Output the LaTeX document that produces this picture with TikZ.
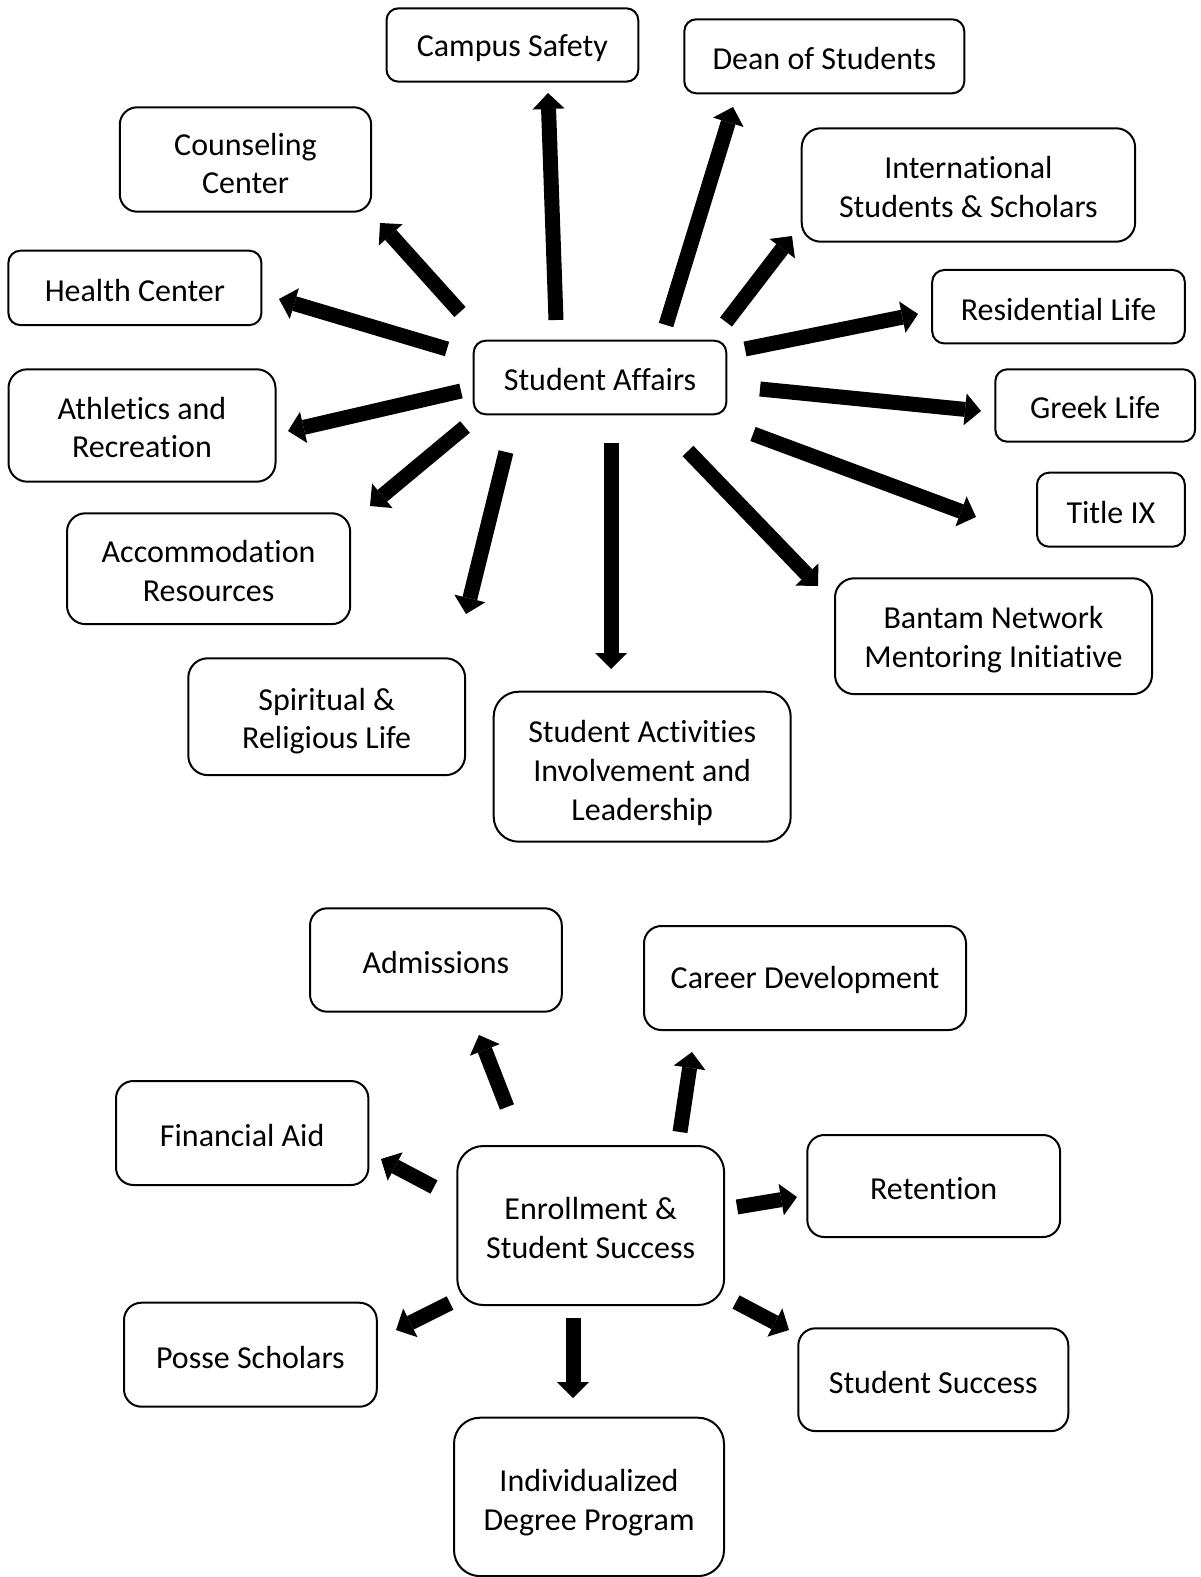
\documentclass[tikz,border=0pt]{standalone}
\usepackage{fontspec}
\setmainfont{Carlito}[Ligatures=NoCommon]
\usetikzlibrary{arrows.meta}
\begin{document}
\begin{tikzpicture}[x=0.5pt,y=-0.5pt,
  % a zero-width strut that sets how far the text sits from the top edge
  lift/.style={execute at begin node={\rule{0pt}{#1}}},
  panel/.style n args={3}{draw, line width=1pt, rounded corners=#3,
    minimum width=#1, minimum height=#2, align=center, inner sep=0pt,
    font=\fontsize{16}{19.35}\selectfont, lift=13.5pt},
  flow/.style={line width=7.5pt,
    -{Triangle[length=8pt,width=16pt,line width=0pt]}}]
\useasboundingbox (0,0) rectangle (1200,1577);

% ---------- Student Affairs ----------
\node[panel={126.3pt}{36.8pt}{6pt}]  (sa)     at (600,377.5)   {Student Affairs};
\node[panel={125.9pt}{36.7pt}{6pt}, lift=14.5pt] (campus) at (512.4,45) {Campus Safety};
\node[panel={140pt}{37pt}{6pt}]      (dean)   at (824.3,56.3)  {Dean of Students};
\node[panel={125.7pt}{52.2pt}{8.7pt}, lift=34.5pt] (couns) at (245.5,159.5) {Counseling\\Center};
\node[panel={166.7pt}{56.7pt}{9.5pt}, lift=32.5pt] (intl)  at (968.4,185) {International\\Students \& Scholars};
\node[panel={126.5pt}{37.2pt}{6pt}]  (health) at (134.9,287.9) {Health Center};
\node[panel={126.3pt}{36.7pt}{6pt}]  (resid)  at (1058.5,306.7) {Residential Life};
\node[panel={133.5pt}{56.2pt}{9.4pt}, lift=32.5pt] (athl)  at (142,425.5) {Athletics and\\Recreation};
\node[panel={99.9pt}{36.2pt}{6pt}]   (greek)  at (1095.2,405.5) {Greek Life};
\node[panel={73.9pt}{37pt}{6pt}]     (title)  at (1110.9,509.7) {Title IX};
\node[panel={141.6pt}{55.4pt}{9.2pt}, lift=32.5pt] (accom) at (208.6,568.7) {Accommodation\\Resources};
\node[panel={158.5pt}{57.9pt}{9.6pt}, lift=34pt] (bantam) at (993.5,636.2) {Bantam Network\\Mentoring Initiative};
\node[panel={138.4pt}{58.4pt}{9.7pt}, lift=35pt] (spirit) at (326.7,716.7) {Spiritual \&\\Religious Life};
\node[panel={148.5pt}{75pt}{12.5pt}, lift=55.9pt] (activ) at (642.2,766.7) {Student Activities\\Involvement and\\Leadership};

% arrow ends around Student Affairs
\coordinate (sa-campus) at (556,320);  \coordinate (campus-in) at (548,93);
\coordinate (sa-dean)   at (666,325);  \coordinate (dean-in)   at (733,107);
\coordinate (sa-couns)  at (460,312);  \coordinate (couns-in)  at (380,223);
\coordinate (sa-intl)   at (726,322);  \coordinate (intl-in)   at (792,236);
\coordinate (sa-health) at (447,349);  \coordinate (health-in) at (279,299);
\coordinate (sa-resid)  at (745,349);  \coordinate (resid-in)  at (918,314);
\coordinate (sa-athl)   at (461,391);  \coordinate (athl-in)   at (288,431);
\coordinate (sa-greek)  at (760,389);  \coordinate (greek-in)  at (981,411);
\coordinate (sa-title)  at (753,434);  \coordinate (title-in)  at (976,517);
\coordinate (sa-accom)  at (465,427);  \coordinate (accom-in)  at (370,506);
\coordinate (sa-spirit) at (506,452);  \coordinate (spirit-in) at (466,614);
\coordinate (sa-activ)  at (611,443);  \coordinate (activ-in)  at (611,669);
\coordinate (sa-bantam) at (688,451);  \coordinate (bantam-in) at (818,586);

\foreach \t in {campus,dean,couns,intl,health,resid,athl,greek,title,accom,spirit,activ,bantam}
  \draw[flow] (sa-\t) -- (\t-in);

% ---------- Enrollment & Student Success ----------
\node[panel={133.4pt}{79.5pt}{13pt}, lift=33pt] (enr) at (590.7,1225.5) {Enrollment \&\\Student Success};
\node[panel={125.9pt}{51.7pt}{8.6pt}] (adm)   at (435.9,960)   {Admissions};
\node[panel={161pt}{52pt}{8.7pt}]    (career) at (805,978)     {Career Development};
\node[panel={126.2pt}{52pt}{8.7pt}]  (fin)    at (242.2,1133)  {Financial Aid};
\node[panel={126.4pt}{51pt}{8.5pt}]  (reten)  at (933.7,1186)  {Retention};
\node[panel={126.4pt}{52pt}{8.7pt}]  (posse)  at (250.4,1354.7) {Posse Scholars};
\node[panel={135pt}{51.4pt}{8.6pt}]  (succ)   at (933.3,1379.7) {Student Success};
\node[panel={135pt}{79.2pt}{13pt}, lift=36.5pt] (idp) at (589,1496.9) {Individualized\\Degree Program};

% arrow ends around Enrollment & Student Success
\coordinate (enr-adm)    at (507,1107); \coordinate (adm-in)    at (479,1035);
\coordinate (enr-career) at (680,1132); \coordinate (career-in) at (692,1052);
\coordinate (enr-fin)    at (434,1187); \coordinate (fin-in)    at (381,1159);
\coordinate (enr-reten)  at (737,1207); \coordinate (reten-in)  at (797,1197);
\coordinate (enr-posse)  at (450,1303); \coordinate (posse-in)  at (396,1330);
\coordinate (enr-idp)    at (573,1318); \coordinate (idp-in)    at (573,1398);
\coordinate (enr-succ)   at (736,1302); \coordinate (succ-in)   at (789,1330);

\foreach \t in {adm,career,fin,reten,posse,idp,succ}
  \draw[flow] (enr-\t) -- (\t-in);
\end{tikzpicture}
\end{document}
